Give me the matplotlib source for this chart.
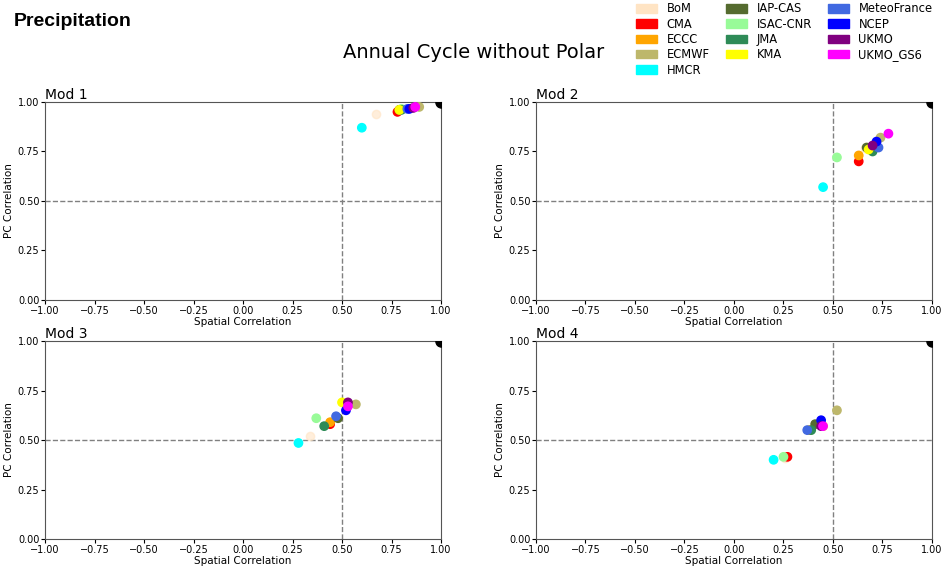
import matplotlib.pyplot as plt
from matplotlib.patches import Patch

# models and colours
models = ['BoM', 'CMA', 'ECCC', 'ECMWF', 'HMCR', 'IAP-CAS', 'ISAC-CNR',
          'JMA', 'KMA', 'MeteoFrance', 'NCEP', 'UKMO', 'UKMO_GS6']
colors = ['bisque', 'red', 'orange', 'darkkhaki', 'cyan', 'darkolivegreen',
          'palegreen', 'seagreen', 'yellow', 'royalblue', 'blue', 'purple', 'magenta']

panels = ['Mod 1', 'Mod 2', 'Mod 3', 'Mod 4']

# spatial correlation (x) per panel, in model order
spatial = [
    [0.67, 0.78, 0.79, 0.89, 0.60, 0.79, 0.80, 0.80, 0.79, 0.83, 0.84, 0.86, 0.87],
    [0.66, 0.63, 0.63, 0.74, 0.45, 0.67, 0.52, 0.70, 0.68, 0.73, 0.72, 0.70, 0.78],
    [0.34, 0.44, 0.44, 0.57, 0.28, 0.48, 0.37, 0.41, 0.50, 0.47, 0.52, 0.53, 0.53],
    [0.26, 0.27, 0.38, 0.52, 0.20, 0.41, 0.25, 0.39, 0.45, 0.37, 0.44, 0.44, 0.45],
]
# PC correlation (y) per panel
pc = [
    [0.94, 0.95, 0.96, 0.975, 0.87, 0.96, 0.965, 0.96, 0.96, 0.965, 0.965, 0.97, 0.975],
    [0.77, 0.70, 0.73, 0.82, 0.57, 0.77, 0.72, 0.75, 0.76, 0.77, 0.80, 0.78, 0.84],
    [0.52, 0.58, 0.59, 0.68, 0.485, 0.61, 0.61, 0.57, 0.69, 0.62, 0.65, 0.69, 0.67],
    [0.41, 0.415, 0.55, 0.65, 0.40, 0.58, 0.415, 0.55, 0.57, 0.55, 0.60, 0.57, 0.57],
]

fig = plt.figure(figsize=(9.48, 5.71), dpi=100)
boxes = [[0.0475, 0.4746, 0.4177, 0.3468],
         [0.5654, 0.4746, 0.4177, 0.3468],
         [0.0475, 0.0560, 0.4177, 0.3468],
         [0.5654, 0.0560, 0.4177, 0.3468]]

for i, name in enumerate(panels):
    ax = fig.add_axes(boxes[i])
    ax.axvline(0.5, color='grey', linestyle='--', linewidth=1)
    ax.axhline(0.5, color='grey', linestyle='--', linewidth=1)
    ax.scatter(spatial[i][:1], pc[i][:1], c=colors[:1], s=36, alpha=0.6, zorder=3)
    ax.scatter(spatial[i][1:], pc[i][1:], c=colors[1:], s=36, zorder=3)
    ax.plot(1, 1, 'o', color='black', markersize=8, zorder=4, clip_on=True)
    ax.set_xlim(-1, 1)
    ax.set_ylim(0, 1)
    ax.set_xticks([-1, -0.75, -0.5, -0.25, 0, 0.25, 0.5, 0.75, 1])
    ax.set_yticks([0, 0.25, 0.5, 0.75, 1])
    ax.xaxis.set_major_formatter('{x:.2f}')
    ax.yaxis.set_major_formatter('{x:.2f}')
    ax.tick_params(labelsize=7, length=3, pad=1)
    for s in ax.spines.values():
        s.set_color('#555555')
    ax.set_xlabel('Spatial Correlation', fontsize=7.5, labelpad=1)
    ax.set_ylabel('PC Correlation', fontsize=7.5, labelpad=3)
    ax.set_title(name, loc='left', fontsize=10, pad=2)

fig.text(0.014, 0.963, 'Precipitation', fontsize=14, fontweight='bold',
         family='Liberation Sans', va='center')
fig.text(0.5, 0.908, 'Annual Cycle without Polar', fontsize=14, ha='center', va='center')

handles = [Patch(color=c, label=m) for m, c in zip(models, colors)]
fig.legend(handles=handles, ncol=3, loc='upper left', bbox_to_anchor=(0.66, 1.014),
           frameon=False, fontsize=8.3, handlelength=1.8, handleheight=0.75,
           labelspacing=0.2, columnspacing=1.4, handletextpad=0.85)

fig.savefig('out.png', dpi=100)
